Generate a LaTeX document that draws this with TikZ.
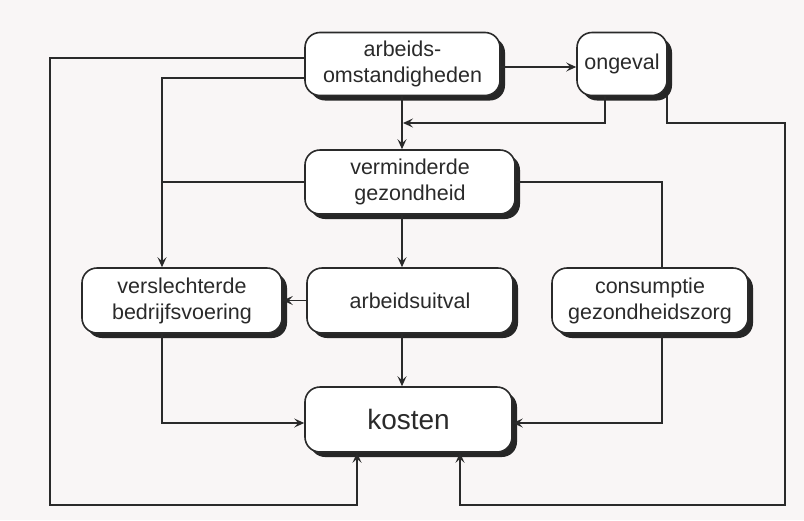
\documentclass[tikz,border=0pt]{standalone}
\usepackage{fontspec}
\setmainfont{Liberation Sans}
\usetikzlibrary{arrows.meta,shadows,calc}
\definecolor{bg}{HTML}{F9F6F6}
\definecolor{ink}{HTML}{2A2A2A}
\begin{document}
\begin{tikzpicture}[x=1pt,y=-1pt,
  box/.style={draw=ink,line width=1.6pt,fill=white,rounded corners=15pt,
    align=center,inner sep=0pt,font=\fontsize{21.5}{26}\selectfont,text=ink,
    general shadow={fill=black!85,shadow xshift=5pt,shadow yshift=-5pt}},
  link/.style={draw=ink,line width=1.4pt},
  arr/.style={link,-{Stealth[length=10pt,width=9pt,inset=4pt]}}]
\fill[bg] (0,0) rectangle (804,520);
\useasboundingbox (0,0) rectangle (804,520);
\node[box,minimum width=195pt,minimum height=63pt] (ao) at (402.5,64) {arbeids-\\omstandigheden};
\node[box,minimum width=90pt,minimum height=63pt] (ong) at (622,64) {ongeval};
\node[box,minimum width=210pt,minimum height=64pt] (vg) at (410,182) {verminderde\\gezondheid};
\node[box,minimum width=200pt,minimum height=65pt] (vb) at (182,300.5) {verslechterde\\bedrijfsvoering};
\node[box,minimum width=206pt,minimum height=65pt] (au) at (410,300.5) {arbeidsuitval};
\node[box,minimum width=196pt,minimum height=65pt] (cg) at (650,300.5) {consumptie\\gezondheidszorg};
\node[box,minimum width=207pt,minimum height=65pt,font=\fontsize{28}{32}\selectfont] (k) at (408.5,419.5) {kosten};
% coordinates for connector routes
\coordinate (xa) at (402,0);
\coordinate (xb) at (162,0);
\coordinate (xc) at (662,0);
\coordinate (xl) at (50,0);
\coordinate (xr) at (785,0);
\coordinate (yo) at (0,123);
\coordinate (yb) at (0,505);
\coordinate (yk) at (0,423);
\coordinate (kl) at (357,0);
\coordinate (kr) at (460,0);
\coordinate (o1) at (605,0);
\coordinate (o2) at (667,0);
% arbeidsomstandigheden -> ongeval
\draw[arr] (ao.east |- 0,67) -- (ong.west |- 0,67);
% arbeidsomstandigheden -> verminderde gezondheid
\draw[arr] (ao.south -| xa) -- (vg.north -| xa);
% ongeval -> join
\draw[arr] (ong.south -| o1) |- ($(xa |- yo)+(1,0)$);
% arbeidsomstandigheden outer loop -> kosten
\draw[arr] (ao.west |- 0,58) -| (xl |- yb) -| (k.south -| kl);
% arbeidsomstandigheden -> verslechterde bedrijfsvoering
\draw[arr] (ao.west |- 0,78) -| (vb.north -| xb);
\draw[link] (vg.west |- 0,182) -- (xb |- 0,182);
% ongeval outer loop -> kosten
\draw[arr] (ong.south -| o2) |- (xr |- yo) |- (kr |- yb) -- (k.south -| kr);
% verminderde gezondheid -> consumptie
\draw[link] (vg.east |- 0,182) -| (cg.north -| xc);
% verminderde gezondheid -> arbeidsuitval
\draw[arr] (vg.south -| xa) -- (au.north -| xa);
% arbeidsuitval -> verslechterde
\draw[arr] (au.west) -- (vb.east);
% arbeidsuitval -> kosten
\draw[arr] (au.south -| xa) -- (k.north -| xa);
% verslechterde -> kosten
\draw[arr] (vb.south -| xb) |- (k.west |- yk);
% consumptie -> kosten
\draw[arr] (cg.south -| xc) |- (k.east |- yk);
\end{tikzpicture}
\end{document}
